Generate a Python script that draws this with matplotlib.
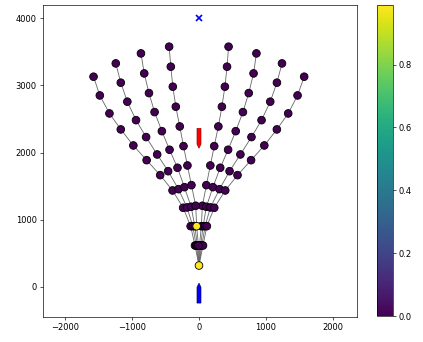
import matplotlib
matplotlib.use("Agg")
import matplotlib.pyplot as plt
import matplotlib.colors

# root node of the tree
root_x = 0
root_y = 317
root_val = 0.99

# branches, listed from the root outwards (left side, outer to inner)
l4_x = [-60, -125, -237, -396, -581, -784, -983, -1171, -1341, -1485, -1579]
l4_y = [615, 903, 1177, 1435, 1663, 1886, 2105, 2344, 2582, 2850, 3129]
l3_x = [-42, -92, -179, -307, -462, -626, -792, -943, -1073, -1171, -1246]
l3_y = [615, 903, 1182, 1454, 1722, 1971, 2230, 2482, 2757, 3040, 3327]
l2_x = [-25, -62, -118, -218, -322, -441, -556, -665, -749, -820, -869]
l2_y = [615, 903, 1192, 1484, 1773, 2041, 2318, 2602, 2885, 3178, 3476]
l1_x = [-8, -35, -49, -113, -173, -232, -288, -347, -392, -422, -447]
l1_y = [615, 903, 1207, 1514, 1807, 2095, 2388, 2682, 2980, 3278, 3576]
# right side, inner to outer
r1_x = [8, 35, 51, 110, 170, 228, 290, 343, 388, 420, 443]
r1_y = [615, 903, 1207, 1514, 1807, 2095, 2388, 2682, 2980, 3278, 3576]
r2_x = [25, 62, 110, 209, 318, 436, 550, 658, 745, 817, 860]
r2_y = [615, 903, 1192, 1484, 1773, 2041, 2318, 2602, 2885, 3178, 3476]
r3_x = [42, 92, 170, 308, 458, 620, 786, 937, 1067, 1167, 1243]
r3_y = [615, 903, 1182, 1454, 1722, 1971, 2230, 2482, 2757, 3040, 3327]
r4_x = [60, 118, 229, 393, 577, 780, 978, 1166, 1336, 1476, 1575]
r4_y = [615, 903, 1177, 1435, 1663, 1886, 2105, 2344, 2582, 2850, 3129]

l1_val = [0, 0.99, 0, 0, 0, 0, 0, 0, 0, 0, 0]
other_val = [0] * 11

branches = [
    (l4_x, l4_y, other_val),
    (l3_x, l3_y, other_val),
    (l2_x, l2_y, other_val),
    (r1_x, r1_y, other_val),
    (r2_x, r2_y, other_val),
    (r3_x, r3_y, other_val),
    (r4_x, r4_y, other_val),
    (l1_x, l1_y, l1_val),
]

target_x, target_y = 0, 4000
# arrows: start point and displacement
red_arrow = (0, 2360, 0, -297)
blue_arrow = (0, -242, 0, 297)

vmin, vmax = 0.0, 0.99

fig = plt.figure(figsize=(423 / 60, 342 / 60), dpi=60)
ax = fig.add_axes([0.101, 0.073, 0.742, 0.913])
cax = fig.add_axes([0.892, 0.076, 0.0364, 0.910])

cmap = plt.cm.viridis
norm = matplotlib.colors.Normalize(vmin=vmin, vmax=vmax)

# edges
for bx, by, bv in branches:
    ax.plot([root_x] + bx, [root_y] + by, color="0.4", lw=1.0, zorder=1)

# nodes
xs, ys, cs = [root_x], [root_y], [root_val]
for bx, by, bv in branches:
    xs += bx
    ys += by
    cs += bv
sc = ax.scatter(xs, ys, c=cs, cmap=cmap, norm=norm, s=85,
                edgecolors="black", linewidths=1.0, zorder=3)

ax.plot(target_x, target_y, "x", color="blue", ms=7, mew=2, zorder=4)

x, y, dx, dy = red_arrow
ax.arrow(x, y, dx, dy, width=60, head_width=60, head_length=60,
         length_includes_head=True, fc="red", ec="#8b0000", lw=0.7, zorder=4)
x, y, dx, dy = blue_arrow
ax.arrow(x, y, dx, dy, width=60, head_width=60, head_length=60,
         length_includes_head=True, fc="blue", ec="#000040", lw=0.7, zorder=4)

ax.set_xlim(-2340, 2360)
ax.set_ylim(-450, 4200)
ax.set_xticks([-2000, -1000, 0, 1000, 2000])
ax.set_yticks([0, 1000, 2000, 3000, 4000])

fig.colorbar(sc, cax=cax)

plt.savefig("out.png", dpi=60)
